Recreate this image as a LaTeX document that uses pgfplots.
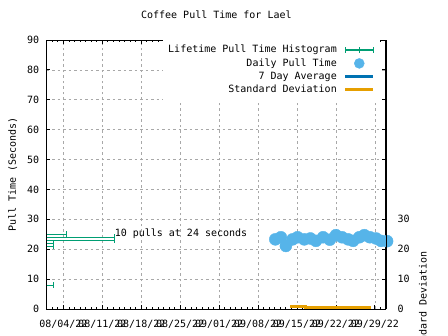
\documentclass[border=0pt]{standalone}
\usepackage{fontspec}
\setmainfont{DejaVu Sans Mono}
\usepackage{pgfplots}
\pgfplotsset{compat=1.18}
\definecolor{histgreen}{HTML}{009E73}
\definecolor{dailyblue}{HTML}{56B4E9}
\definecolor{avgblue}{HTML}{0072B2}
\definecolor{sdorange}{HTML}{E69F00}
\definecolor{gridgray}{HTML}{A8A8A8}
\newcommand{\gfont}{\fontsize{10bp}{12bp}\selectfont}
\begin{document}
\begin{tikzpicture}
\begin{axis}[
  at={(0,0)}, anchor=south west, scale only axis,
  width=339.3bp, height=269bp,
  xmin=0, xmax=61, ymin=0, ymax=90,
  clip=false,
  font=\gfont,
  /pgf/number format/assume math mode=true,
  axis line style={line width=1bp},
  xtick={3,10,17,24,31,38,45,52,59},
  xticklabels={08/04/22,08/11/22,08/18/22,08/25/22,09/01/22,09/08/22,09/15/22,09/22/22,09/29/22},
  minor xtick={0,1,...,61},
  ytick={0,10,...,90},
  tick style={line width=0.8bp, black},
  major tick length=3.5bp, minor tick length=2bp,
  grid=major,
  major grid style={gridgray, line width=0.7bp, dash pattern=on 2.5bp off 3bp},
  xticklabel style={anchor=base, yshift=-18bp, inner sep=0pt},
  yticklabel style={anchor=east, inner sep=0pt, xshift=-7.4bp},
  title={Coffee Pull Time for Lael},
  title style={at={(0.5,1)}, anchor=base, yshift=15.5bp, inner sep=0pt},
  ylabel={Pull Time (Seconds)},
  ylabel style={at={(axis description cs:-0.1003,0.5)}, anchor=center, inner sep=0pt},
  legend plot pos=right,
  legend cell align=right,
  legend style={at={(1,1)}, anchor=north east, xshift=-6bp, draw=none, fill=white,
    inner sep=5bp, row sep=3.5bp, column sep=7bp,
    nodes={inner sep=0pt, text height=7.5bp, text depth=2bp, font=\gfont}},
]
\addplot[xcomb, histgreen, line width=1bp, mark=|, mark size=3bp, mark options={solid, line width=1bp, draw=histgreen},
  legend image code/.code={
    \draw[draw=histgreen, line width=1.1bp] (0bp,0bp) -- (28bp,0bp);
    \draw[draw=histgreen, line width=1.1bp] (0bp,-3bp) -- (0bp,3bp);
    \draw[draw=histgreen, line width=1.1bp] (28bp,-3bp) -- (28bp,3bp);
    \draw[draw=histgreen, line width=1.1bp] (14bp,-3bp) -- (14bp,3bp);
  }] coordinates {
  (3.6,25) (12.16,24) (12.16,23) (1.19,22) (1.19,21) (1.19,8)
};
\addlegendentry{Lifetime Pull Time Histogram}
\addplot[only marks, mark=*, mark size=6bp, mark options={draw=none, fill=dailyblue}, color=dailyblue,
  legend image code/.code={\fill[dailyblue] (14bp,0bp) circle (5bp);}] coordinates {
  (41.1,23.3) (42.1,24.0) (43.0,21.1) (44.2,23.3) (45.1,24.0) (46.3,23.3) (47.4,23.6)
  (48.4,22.8) (49.7,24.0) (50.9,23.2) (52.0,24.7) (53.1,24.0) (54.2,23.3) (55.1,22.8)
  (56.2,24.0) (57.1,24.7) (58.1,24.0) (59.2,23.6) (60.1,22.8) (61.2,22.7)
};
\addlegendentry{Daily Pull Time}
\addplot[const plot, avgblue, line width=3bp,
  legend image code/.code={\draw[avgblue, line width=3bp] (0bp,0bp) -- (28bp,0bp);}] coordinates {
  (43.8,23.0) (46.3,23.4) (48.4,23.8) (52.4,24.1) (57.2,23.6) (58.3,23.6)
};
\addlegendentry{7 Day Average}
\addlegendimage{legend image code/.code={\draw[sdorange, line width=3bp] (0bp,0bp) -- (28bp,0bp);}}
\addlegendentry{Standard Deviation}
\node[anchor=west, inner sep=0pt, font=\gfont] at (axis cs:12.2,25.3) {10 pulls at 24 seconds};
\end{axis}
\begin{axis}[
  at={(0,0)}, anchor=south west, scale only axis,
  width=339.3bp, height=269bp,
  xmin=0, xmax=61, ymin=0, ymax=90,
  hide x axis, axis y line*=right,
  axis line style={line width=1bp},
  font=\gfont,
  /pgf/number format/assume math mode=true,
  ytick={0,10,20,30}, major tick length=0pt,
  yticklabel style={anchor=west, inner sep=0pt, xshift=11.5bp},
]
\addplot[const plot, sdorange, line width=3bp] coordinates {(43.8,0.9) (46.6,0.5) (58.3,0.5)};
\end{axis}
\node[rotate=90, font=\gfont, anchor=center, inner sep=0pt] at (376.3bp,3.8bp) {Standard Deviation};
\pgfresetboundingbox
\path[use as bounding box] (-46.7bp,-27bp) rectangle (401.3bp,309bp);
\end{tikzpicture}
\end{document}
